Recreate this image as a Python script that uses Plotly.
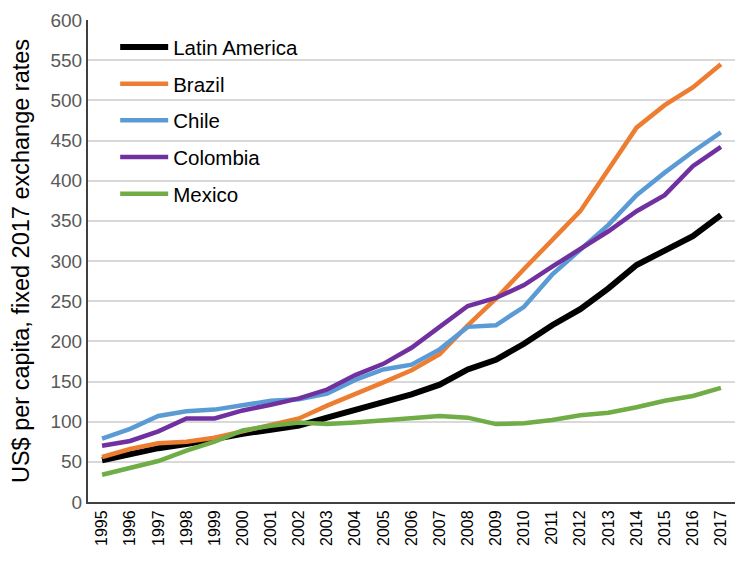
import plotly.graph_objects as go

years = [str(y) for y in range(1995, 2018)]

latin_america = [52, 60, 67, 72, 79, 85, 90, 95, 105, 115, 124, 134, 146, 165, 177, 197, 220, 240, 266, 295, 313, 331, 357]
brazil = [56, 66, 73, 75, 80, 88, 97, 104, 120, 134, 149, 164, 184, 220, 253, 290, 327, 362, 414, 466, 494, 516, 545]
chile = [79, 91, 107, 113, 115, 121, 126, 128, 135, 152, 165, 171, 190, 218, 220, 243, 283, 314, 345, 382, 410, 436, 460]
colombia = [70, 76, 88, 104, 104, 114, 121, 129, 140, 158, 172, 192, 218, 244, 254, 270, 293, 315, 337, 362, 382, 418, 442]
mexico = [34, 42, 51, 64, 75, 89, 95, 99, 97, 99, 102, 104, 107, 105, 97, 98, 102, 108, 111, 118, 126, 132, 142]

series = [
    ("Latin America", latin_america, "#000000", 6),
    ("Brazil", brazil, "#ED7D31", 4.5),
    ("Chile", chile, "#5B9BD5", 4.5),
    ("Colombia", colombia, "#7030A0", 4.5),
    ("Mexico", mexico, "#70AD47", 4.5),
]

fig = go.Figure()
for name, vals, color, w in series:
    fig.add_trace(go.Scatter(
        x=years, y=vals, mode="lines", name=name, legendgroup=name,
        line=dict(color=color, width=w),
    ))

# page body has an 8px default margin, so the figure is sized to fit inside
fig.update_layout(
    width=740, height=560,
    paper_bgcolor="white", plot_bgcolor="white",
    margin=dict(l=80, r=13, t=12, b=66),
    font=dict(family="Liberation Sans, Arial, sans-serif", color="#000000"),
    showlegend=True,
    legend=dict(
        x=0.042, y=0.985, xanchor="left", yanchor="top",
        font=dict(size=20.5, color="#000000"),
        bgcolor="rgba(0,0,0,0)",
        tracegroupgap=7,
        itemwidth=48,
    ),
    xaxis=dict(
        type="category",
        range=[-0.5, 22.5],
        tickangle=-90,
        tickfont=dict(size=16, color="#000000"),
        showgrid=False,
        showline=True, linecolor="#404040", linewidth=2,
        ticks="",
        automargin=False,
    ),
    yaxis=dict(
        range=[0, 600],
        dtick=50,
        tickfont=dict(size=19, color="#595959"),
        showgrid=True, gridcolor="#D9D9D9", gridwidth=1.5,
        showline=True, linecolor="#404040", linewidth=2,
        zeroline=False,
        ticks="",
        automargin=False,
        title=dict(text="US$ per capita, fixed 2017 exchange rates",
                   font=dict(size=23.5, color="#000000"), standoff=18),
    ),
)

fig.write_html("out.html")
